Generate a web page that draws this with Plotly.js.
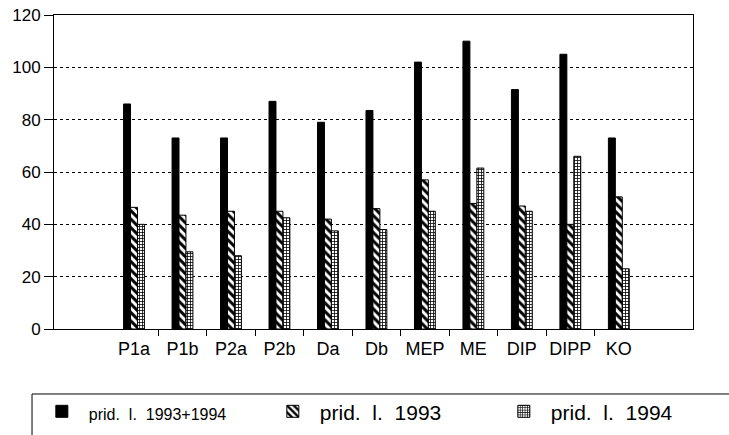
<!DOCTYPE html>
<html>
<head>
<meta charset="utf-8">
<script src="https://cdn.plot.ly/plotly-3.0.1.min.js"></script>
<style>html,body{margin:0;padding:0;background:#fff;}#chart{width:729px;height:435px;}</style>
</head>
<body>
<div id="chart"></div>
<script>
const categories = ["P1a","P1b","P2a","P2b","Da","Db","MEP","ME","DIP","DIPP","KO"];
const total9394 = [86, 73, 73, 87, 79, 83.5, 102, 110, 91.5, 105, 73];
const year1993 = [46.5, 43.5, 45, 45, 42, 46, 57, 48, 47, 40, 50.5];
const year1994 = [40, 29.5, 28, 42.5, 37.5, 38, 45, 61.5, 45, 66, 23];
const seriesNames = ['<span style="font-size:16px">prid.  l.  1993+1994</span>', "prid.  l.  1993", "prid.  l.  1994"];
const yTicks = [0, 20, 40, 60, 80, 100, 120];

const boundaries = categories.slice(1).map((c, i) => i + 0.5);
const xRange = [-1.65, 11.53];

const traces = [
  {type: "bar", x: categories, y: total9394, name: seriesNames[0],
   marker: {color: "#000", line: {color: "#000", width: 1}}},
  {type: "bar", x: categories, y: year1993, name: seriesNames[1],
   marker: {color: "#fff", line: {color: "#000", width: 1},
            pattern: {shape: "\\", fgcolor: "#000", bgcolor: "#fff", size: 6, solidity: 0.5}}},
  {type: "bar", x: categories, y: year1994, name: seriesNames[2],
   marker: {color: "#fff", line: {color: "#000", width: 1},
            pattern: {shape: "+", fgcolor: "#000", bgcolor: "#fff", size: 3, solidity: 0.45}}},
  {type: "scatter", x: boundaries, y: boundaries.map(() => null), xaxis: "x2", yaxis: "y",
   showlegend: false, hoverinfo: "skip", mode: "markers"}
];

const layout = {
  width: 729, height: 435,
  margin: {l: 54, r: 36, t: 15, b: 106, autoexpand: false},
  paper_bgcolor: "#fff", plot_bgcolor: "#fff",
  font: {family: "Liberation Sans, Arial, sans-serif", color: "#000"},
  barmode: "group", bargap: 0.57, bargroupgap: 0,
  showlegend: true,
  xaxis: {
    type: "category", range: xRange,
    showline: true, linecolor: "#000", linewidth: 1, mirror: true,
    ticks: "outside", ticklen: 3, tickcolor: "rgba(0,0,0,0)",
    tickfont: {size: 18}, showgrid: false, zeroline: false, fixedrange: true
  },
  xaxis2: {
    type: "linear", overlaying: "x", anchor: "y", side: "bottom", range: xRange,
    tickmode: "array", tickvals: boundaries, showticklabels: false,
    ticks: "outside", ticklen: 6, tickcolor: "#000", tickwidth: 1,
    showgrid: false, zeroline: false, showline: false
  },
  yaxis: {
    range: [0, 120], tickmode: "array", tickvals: yTicks,
    showline: true, linecolor: "#000", linewidth: 1, mirror: true,
    ticks: "outside", ticklen: 9, tickcolor: "#000",
    tickfont: {size: 17},
    showgrid: true, gridcolor: "#000", gridwidth: 1, griddash: "dot",
    zeroline: false, fixedrange: true
  },
  legend: {
    orientation: "h", x: -0.03, xanchor: "left", y: -0.198, yanchor: "top",
    font: {size: 21}, bgcolor: "rgba(0,0,0,0)", borderwidth: 0,
    entrywidth: 172, entrywidthmode: "pixels", itemwidth: 44,
    traceorder: "normal"
  },
  shapes: [
    {type: "rect", xref: "paper", yref: "paper", x0: -0.0344, x1: 1.1, y0: -0.207, y1: -0.36,
     line: {color: "#000", width: 1}, fillcolor: "rgba(0,0,0,0)"}
  ]
};

Plotly.newPlot("chart", traces, layout, {staticPlot: true, displayModeBar: false});
</script>
</body>
</html>
